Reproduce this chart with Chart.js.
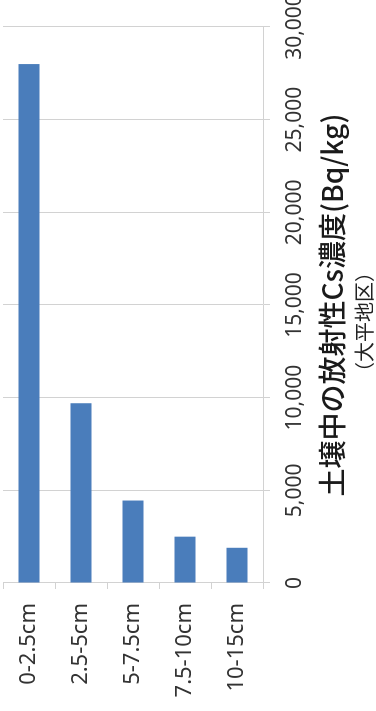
<!DOCTYPE html>
<html>
<head>
<meta charset="utf-8">
<script src="https://cdn.jsdelivr.net/npm/chart.js@4.4.1/dist/chart.umd.min.js"></script>
<style>
  html, body { margin: 0; padding: 0; background: #fff; overflow: hidden; }
  /* the chart is laid out sideways and turned a quarter turn so its text reads bottom-to-top */
  #wrap {
    position: absolute; left: 0; top: 0;
    width: 778px; height: 376px;
    transform-origin: 0 0;
    transform: translate(0px, 711px) rotate(-90deg);
  }
</style>
</head>
<body>
<div id="wrap"><canvas id="cs-chart" width="778" height="376"></canvas></div>
<script>
// depth ranges and Cs concentration (Bq/kg)
const depths = ['0-2.5cm', '2.5-5cm', '5-7.5cm', '7.5-10cm', '10-15cm'];
const csValues = [28000, 9700, 4450, 2500, 1900];
const valueTicks = [0, 5000, 10000, 15000, 20000, 25000, 30000];

const axisTitle = '土壌中の放射性Cs濃度(Bq/kg)';
const areaName = '（大平地区）';

const gridGrey = '#d2d2d2';
const sans = "'Noto Sans', 'Noto Sans CJK JP', sans-serif";

const csData = {
    labels: depths,
    datasets: [{
        data: csValues,
        backgroundColor: '#4a7dbb',
        borderWidth: 0,
        categoryPercentage: 1,
        barPercentage: 0.4
    }]
};

const csConfig = {
    type: 'bar',
    data: csData,
    options: {
        indexAxis: 'y',
        responsive: false,
        animation: false,
        devicePixelRatio: 1,
        layout: {
            padding: {left: 0, right: 0, top: 3, bottom: 0}
        },
        plugins: {
            legend: {display: false},
            tooltip: {enabled: false},
            title: {
                display: true,
                position: 'bottom',
                text: areaName,
                color: '#222',
                font: {family: "'Noto Sans CJK JP', sans-serif", size: 20, weight: 'normal'},
                padding: {top: 0, bottom: 0}
            }
        },
        scales: {
            x: {
                min: 0,
                max: 30000,
                afterBuildTicks: (scale) => {
                    scale.ticks = valueTicks.map(v => ({value: v}));
                },
                afterFit: (scale) => {
                    scale.height = 89;
                    scale.paddingLeft = 0;
                    // room past the last tick; the full-width area name stays centred on the canvas
                    scale.paddingRight = 94;
                },
                ticks: {
                    color: '#333',
                    padding: 12,
                    maxRotation: 0,
                    font: {family: sans, size: 21},
                    callback: (v) => v.toLocaleString('en-US')
                },
                grid: {color: gridGrey, lineWidth: 1, tickLength: 7},
                border: {display: true, color: gridGrey, width: 1},
                title: {
                    display: true,
                    text: axisTitle,
                    color: '#1a1a1a',
                    font: {family: "'Noto Sans CJK JP', sans-serif", size: 28, weight: '500'},
                    padding: {top: 0, bottom: 3}
                }
            },
            y: {
                afterFit: (scale) => {
                    scale.width = 128;
                    scale.paddingTop = 0;
                    scale.paddingBottom = 0;
                },
                ticks: {
                    color: '#333',
                    padding: 14,
                    font: {family: sans, size: 22}
                },
                grid: {
                    color: gridGrey,
                    drawOnChartArea: false,
                    tickLength: 6,
                    offset: true
                },
                border: {display: true, color: gridGrey, width: 1}
            }
        }
    }
};

const csChart = new Chart(document.getElementById('cs-chart'), csConfig);
</script>
</body>
</html>
